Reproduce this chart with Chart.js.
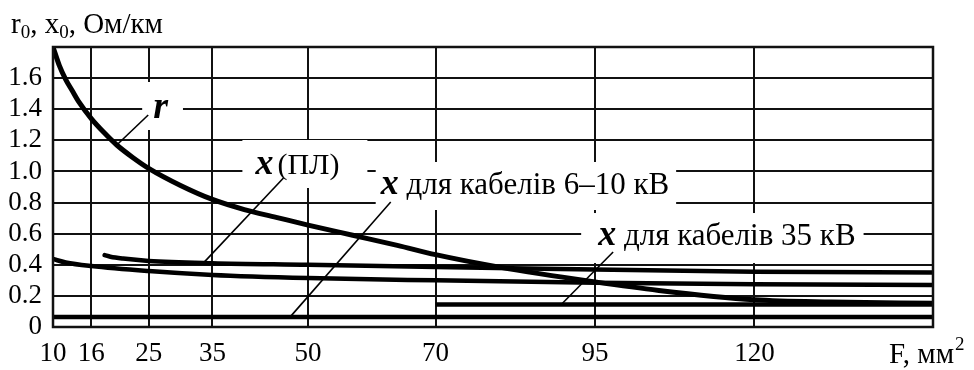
<!DOCTYPE html>
<html>
<head>
<meta charset="utf-8">
<script src="https://cdn.jsdelivr.net/npm/chart.js@4/dist/chart.umd.min.js"></script>
<style>
  html, body { margin: 0; padding: 0; background: #fff; }
  #wrap { width: 974px; height: 370px; }
</style>
</head>
<body>
<div id="wrap"><canvas id="chart" width="974" height="370"></canvas></div>
<script>
// Cross-section F, mm² (axis ticks) and resistance ticks, Ohm/km
const sectionTicks = [10, 16, 25, 35, 50, 70, 95, 120];
const ohmTicks = [0, 0.2, 0.4, 0.6, 0.8, 1.0, 1.2, 1.4, 1.6, 1.8];

// Active resistance r0 of the conductor
const rSection = [10, 11, 12, 13, 14, 16, 18, 20, 22.5, 25, 30, 35, 40, 45, 50, 57, 64, 70, 80, 95, 105, 120, 132, 148];
const rOhm     = [1.80, 1.68, 1.59, 1.52, 1.45, 1.34, 1.25, 1.17, 1.09, 1.02, 0.91, 0.82, 0.755, 0.705, 0.655, 0.59, 0.525, 0.465, 0.385, 0.29, 0.235, 0.175, 0.16, 0.152];

// Reactance of overhead lines (ПЛ)
const xLineSection = [18.1, 19, 21, 25, 35, 50, 70, 95, 120, 148];
const xLineOhm     = [0.462, 0.452, 0.44, 0.425, 0.41, 0.40, 0.385, 0.37, 0.355, 0.35];

// Second overhead-line reactance curve (from 10 mm²)
const xLine2Section = [10, 12, 16, 25, 35, 50, 70, 95, 120, 148];
const xLine2Ohm     = [0.437, 0.415, 0.392, 0.36, 0.335, 0.315, 0.30, 0.285, 0.275, 0.27];

// Reactance of 35 kV cables
const xCable35Section = [70, 148];
const xCable35Ohm     = [0.145, 0.145];

// Reactance of 6–10 kV cables
const xCable10Section = [10, 148];
const xCable10Ohm     = [0.065, 0.065];

const toPoints = (xs, ys) => xs.map((x, i) => ({ x: x, y: ys[i] }));

const SERIF = '"Liberation Serif", "DejaVu Serif", serif';
const INK = '#111';

function curve(label, xs, ys, extra) {
  return Object.assign({
    label: label,
    data: toPoints(xs, ys),
    borderColor: '#000',
    borderWidth: 4.5,
    pointRadius: 0,
    fill: false,
    cubicInterpolationMode: 'monotone',
    borderCapStyle: 'round'
  }, extra || {});
}

const datasets = [
  curve('r', rSection, rOhm, { borderWidth: 5 }),
  curve('x (ПЛ)', xLineSection, xLineOhm),
  curve('x (ПЛ) 2', xLine2Section, xLine2Ohm),
  curve('x 35 кВ', xCable35Section, xCable35Ohm, { borderCapStyle: 'butt' }),
  curve('x 6–10 кВ', xCable10Section, xCable10Ohm, { borderCapStyle: 'butt' })
];

// Curve labels: text runs, anchor (left, baseline) in data units, white backing box, leader to a curve
const notes = [
  { runs: [{ t: 'r', f: 'italic bold 38px ' + SERIF }],
    at: [25.71, 1.3436], box: { l: 11, r: 15, up: 36, down: 12 },
    leader: { from: [24.93, 1.363], toX: 20, series: 0 } },
  { runs: [{ t: 'x', f: 'italic bold 36px ' + SERIF }, { t: '(ПЛ)', f: '30px ' + SERIF, gap: 4 }],
    at: [41.74, 0.9836], box: { l: 13, r: 28, up: 34, down: 14 },
    leader: { from: [46.14, 0.958], toX: 33.6, series: 1 } },
  { runs: [{ t: 'x', f: 'italic bold 36px ' + SERIF }, { t: ' для кабелів 6–10 кВ', f: '31px ' + SERIF }],
    at: [61.39, 0.855], box: { l: 5, r: 7, up: 32, down: 16 },
    leader: { from: [62.96, 0.8036], toX: 47.2, series: 4 } },
  { runs: [{ t: 'x', f: 'italic bold 36px ' + SERIF }, { t: ' для кабелів 35 кВ', f: '31px ' + SERIF }],
    at: [95.49, 0.527], box: { l: 17, r: 8, up: 32, down: 18 },
    leader: { from: [97.84, 0.482], toX: 89.7, series: 3 } }
];

function runsWidth(ctx, runs) {
  let w = 0;
  runs.forEach(r => { ctx.font = r.f; w += (r.gap || 0) + ctx.measureText(r.t).width; });
  return w;
}

function valueOn(xs, ys, x) {
  for (let i = 0; i < xs.length - 1; i++) {
    if (x >= xs[i] && x <= xs[i + 1]) {
      const k = (x - xs[i]) / (xs[i + 1] - xs[i]);
      return ys[i] + k * (ys[i + 1] - ys[i]);
    }
  }
  return ys[ys.length - 1];
}

const notesPlugin = {
  id: 'notesPlugin',
  beforeDatasetsDraw(chart) {
    const ctx = chart.ctx, sx = chart.scales.x, sy = chart.scales.y;
    ctx.save();
    ctx.fillStyle = '#fff';
    notes.forEach(n => {
      const x = sx.getPixelForValue(n.at[0]);
      const y = sy.getPixelForValue(n.at[1]);
      const w = runsWidth(ctx, n.runs);
      ctx.fillRect(x - n.box.l, y - n.box.up, w + n.box.l + n.box.r, n.box.up + n.box.down);
    });
    ctx.restore();
  },
  afterDatasetsDraw(chart) {
    const ctx = chart.ctx, sx = chart.scales.x, sy = chart.scales.y, a = chart.chartArea;
    ctx.save();
    // plot frame
    ctx.strokeStyle = INK;
    ctx.lineWidth = 2.5;
    ctx.strokeRect(a.left, a.top, a.right - a.left, a.bottom - a.top);

    // leaders
    ctx.lineWidth = 1.6;
    ctx.strokeStyle = '#000';
    notes.forEach(n => {
      const ds = chart.data.datasets[n.leader.series].data;
      const xs = ds.map(p => p.x), ys = ds.map(p => p.y);
      const tipY = valueOn(xs, ys, n.leader.toX);
      ctx.beginPath();
      ctx.moveTo(sx.getPixelForValue(n.leader.from[0]), sy.getPixelForValue(n.leader.from[1]));
      ctx.lineTo(sx.getPixelForValue(n.leader.toX), sy.getPixelForValue(tipY));
      ctx.stroke();
    });

    // label text
    ctx.fillStyle = '#000';
    ctx.textBaseline = 'alphabetic';
    ctx.textAlign = 'left';
    notes.forEach(n => {
      let x = sx.getPixelForValue(n.at[0]);
      const y = sy.getPixelForValue(n.at[1]);
      n.runs.forEach(r => {
        ctx.font = r.f;
        x += r.gap || 0;
        ctx.fillText(r.t, x, y);
        x += ctx.measureText(r.t).width;
      });
    });
    ctx.restore();
  },
  afterDraw(chart) {
    const ctx = chart.ctx;
    ctx.save();
    ctx.fillStyle = '#000';
    ctx.textBaseline = 'alphabetic';
    ctx.textAlign = 'left';
    // axis title above the value axis: r0, x0, Ом/км
    const big = '29px ' + SERIF, sub = '19px ' + SERIF;
    const parts = [['r', big, 0], ['0', sub, 5], [', x', big, 0], ['0', sub, 5], [', Ом/км', big, 0]];
    let x = 11;
    const base = 33;
    parts.forEach(p => {
      ctx.font = p[1];
      ctx.fillText(p[0], x, base + p[2]);
      x += ctx.measureText(p[0]).width;
    });
    // unit of the section axis: F, мм²
    ctx.font = '29px ' + SERIF;
    const fx = 889, fy = 363;
    ctx.fillText('F, мм', fx, fy);
    const fw = ctx.measureText('F, мм').width;
    ctx.font = '19px ' + SERIF;
    ctx.fillText('2', fx + fw + 1, fy - 13);
    ctx.restore();
  }
};

new Chart(document.getElementById('chart'), {
  type: 'line',
  data: { datasets: datasets },
  options: {
    responsive: false,
    animation: false,
    devicePixelRatio: 1,
    layout: { padding: { top: 47, right: 41, left: 0, bottom: 0 } },
    plugins: { legend: { display: false }, tooltip: { enabled: false } },
    scales: {
      x: {
        type: 'linear',
        min: 10,
        max: 148,
        afterBuildTicks: s => { s.ticks = sectionTicks.map(v => ({ value: v })); },
        afterFit: s => { s.height = 43; },
        border: { display: false },
        grid: { color: INK, lineWidth: 2, drawTicks: false },
        ticks: {
          color: '#000',
          padding: 11,
          maxRotation: 0,
          autoSkip: false,
          font: { family: SERIF, size: 27 },
          callback: v => String(v)
        }
      },
      y: {
        type: 'linear',
        min: 0,
        max: 1.8,
        afterBuildTicks: s => { s.ticks = ohmTicks.map(v => ({ value: v })); },
        afterFit: s => { s.width = 53; },
        border: { display: false },
        grid: { color: INK, lineWidth: 2, drawTicks: false },
        ticks: {
          color: '#000',
          padding: 11,
          autoSkip: false,
          font: { family: SERIF, size: 27 },
          callback: v => (v >= 1.79 ? '' : (v === 0 ? '0' : v.toFixed(1)))
        }
      }
    }
  },
  plugins: [notesPlugin]
});
</script>
</body>
</html>
